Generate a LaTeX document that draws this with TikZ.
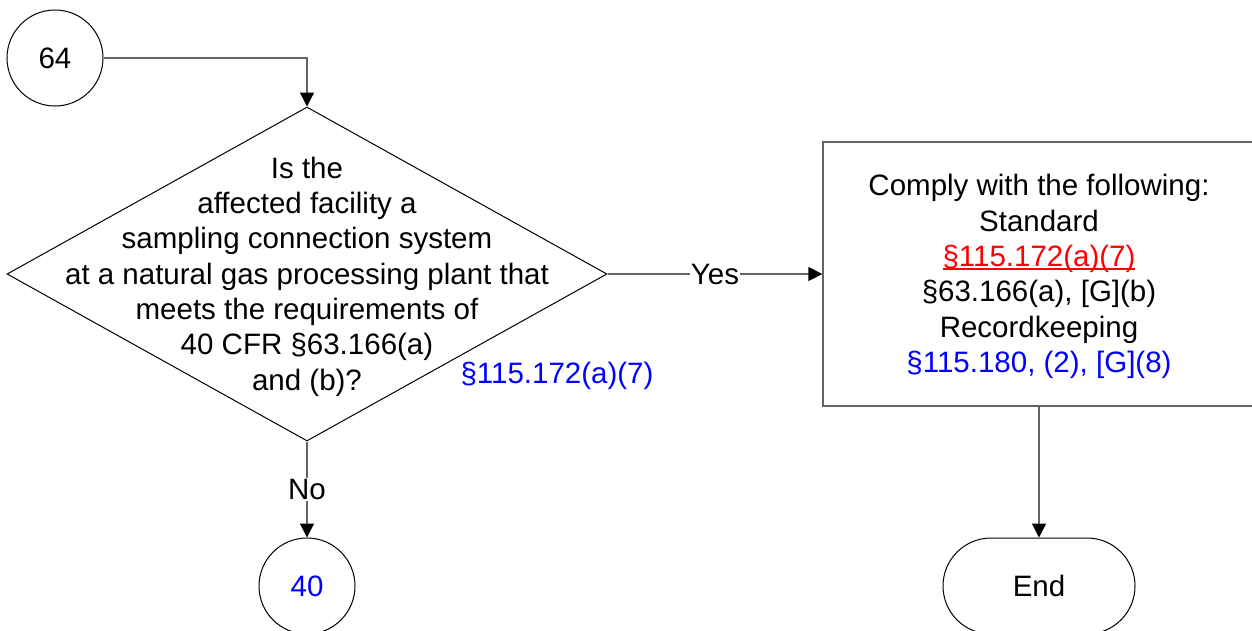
\documentclass[tikz,border=0pt]{standalone}
\usepackage{fontspec}
\setmainfont{Liberation Sans}
\usetikzlibrary{shapes.geometric,arrows.meta}
\definecolor{refblue}{RGB}{0,0,255}
\definecolor{refred}{RGB}{255,0,0}
\definecolor{linegray}{RGB}{100,100,100}
\newcommand{\myuline}[1]{\setbox0\hbox{#1}\rlap{\rule[-3.5pt]{\wd0}{1.6pt}}\box0}
\begin{document}
\begin{tikzpicture}[x=1pt,y=-1pt,
  every node/.style={font=\fontsize{29.5}{35.3}\selectfont},
  conn/.style={draw=linegray,line width=1.3pt,-{Triangle[length=14pt,width=14pt,color=black]}},
  circ/.style={circle,draw=black,line width=1pt,minimum size=96pt,inner sep=0pt},
  dshape/.style={diamond,draw=black,line width=1pt,minimum width=600pt,minimum height=334pt,inner sep=0pt},
  boxshape/.style={rectangle,draw=linegray,line width=1.3pt,minimum width=432pt,minimum height=264pt,inner sep=0pt},
  term/.style={rectangle,rounded corners=48pt,draw=black,line width=1pt,minimum width=192pt,minimum height=96pt,inner sep=0pt},
  lbl/.style={fill=white,inner sep=1pt}]
\useasboundingbox (0,0) rectangle (1252,630);
\clip (0,0) rectangle (1252,630);
\node[circ] (c64) at (55,58) {64};
\node[dshape] (d) at (307,274) {};
\node[align=center,inner sep=0pt] (dtext) at (307,276.5) {Is the\\affected facility a\\sampling connection system\\at a natural gas processing plant that\\meets the requirements of\\40 CFR §63.166(a)\\and (b)?};
\node[text=refblue,inner sep=0pt] (dref) at (557,376) {§115.172(a)(7)};
\node[boxshape] (box) at (1039,274) {};
\node[align=center,inner sep=0pt] (boxtext) at (1039,276.5) {Comply with the following:\\Standard\\\textcolor{refred}{\myuline{§115.172(a)(7)}}\\§63.166(a), [G](b)\\Recordkeeping\\\textcolor{refblue}{§115.180, (2), [G](8)}};
\node[circ,text=refblue] (c40) at (307,586) {40};
\node[term] (end) at (1039,586) {End};
\draw[conn] (c64.east) -| (d.north);
\draw[conn] (d.east) -- node[lbl] (yes) {Yes} (box.west);
\draw[conn] (d.south) -- node[lbl,pos=0.5] (no) {No} (c40.north);
\draw[conn] (box.south -| end.north) -- (end.north);
\end{tikzpicture}
\end{document}
